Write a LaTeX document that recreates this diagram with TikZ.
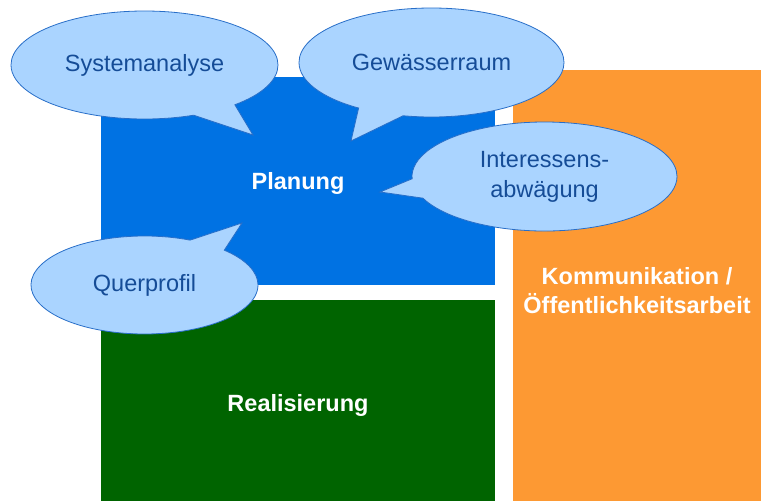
\documentclass[tikz,border=0pt]{standalone}
\usepackage{fontspec}
\setmainfont{Liberation Sans}
\usetikzlibrary{shapes.callouts}
\definecolor{planblue}{RGB}{0,114,227}
\definecolor{realgreen}{RGB}{0,100,0}
\definecolor{komorange}{RGB}{253,153,51}
\definecolor{bubblefill}{RGB}{170,212,255}
\definecolor{bubbleline}{RGB}{40,110,200}
\definecolor{bubbletext}{RGB}{21,76,151}
\tikzset{
  area/.style={draw=none, inner sep=0pt},
  arealabel/.style={text=white, font=\fontsize{23.5}{29}\selectfont\bfseries, align=center, inner sep=0pt},
  bubble/.style={ellipse callout, draw=bubbleline, line width=0.8pt, fill=bubblefill,
    text=bubbletext, font=\fontsize{23.5}{30}\selectfont, align=center, inner sep=0pt,
    callout pointer arc=21},
}
\begin{document}
\begin{tikzpicture}[x=1pt,y=-1pt]
\useasboundingbox (0,0) rectangle (761,501);
% areas
\node[area, fill=planblue, minimum width=394pt, minimum height=208pt] (plan) at (298,181) {};
\node[area, fill=realgreen, minimum width=394pt, minimum height=201pt] (real) at (298,400.5) {};
\node[area, fill=komorange, minimum width=248pt, minimum height=431pt] (komm) at (637,285.5) {};
\node[arealabel] (planlbl) at (298,183) {Planung};
\node[arealabel] (reallbl) at (298,405) {Realisierung};
\node[arealabel] (kommlbl) at (637,291) {Kommunikation /\\Öffentlichkeitsarbeit};
% bubbles
\coordinate (tipA) at (253,135);
\coordinate (tipB) at (351,141);
\coordinate (tipC) at (380,192);
\coordinate (tipD) at (242,223);
\node[bubble, minimum width=267pt, minimum height=108pt, callout absolute pointer={(tipA)}] (sys) at (144.5,65) {Systemanalyse};
\node[bubble, minimum width=265pt, minimum height=109pt, callout absolute pointer={(tipB)}] (gew) at (431.5,62.5) {Gewässerraum};
\node[bubble, minimum width=265pt, minimum height=109pt, callout absolute pointer={(tipC)}] (int) at (544.5,176.5) {Interessens-\\abwägung};
\node[bubble, minimum width=227pt, minimum height=98pt, callout absolute pointer={(tipD)}] (quer) at (144.5,285) {Querprofil};
\end{tikzpicture}
\end{document}
